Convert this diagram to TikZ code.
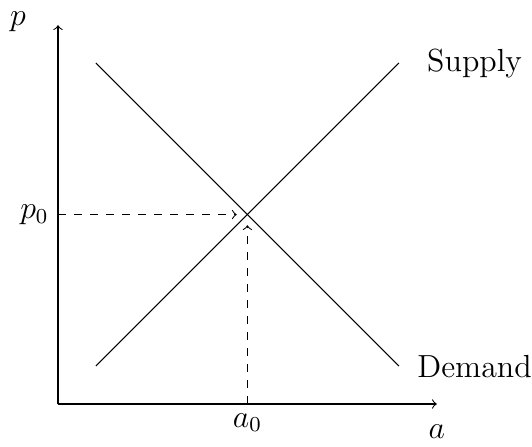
\documentclass[tikz,border=0pt]{standalone}
\usetikzlibrary{positioning}
\tikzset{
  every node/.style={font=\fontsize{12}{14}\selectfont},
  axis/.style={->},
  curve/.style={line width=0.4pt},
  guide/.style={->, dashed, shorten >=4pt},
}
\begin{document}
\begin{tikzpicture}
  \useasboundingbox (-0.766,-0.568) rectangle (6.257,5.333);
  % Axes
  \coordinate (O) at (0,0);
  \coordinate (xend) at (5,0);
  \coordinate (yend) at (0,5);
  \draw[axis] (O) -- (xend);
  \draw[axis] (O) -- (yend);
  \node (alab) at (5,-0.37) {$a$};
  \node (plab) at (-0.53,5.04) {$p$};
  % Supply and demand lines
  \coordinate (s0) at (0.5,0.5);
  \coordinate (s1) at (4.5,4.5);
  \coordinate (d0) at (0.5,4.5);
  \coordinate (d1) at (4.5,0.5);
  \coordinate (eq) at (2.5,2.5);
  \draw[curve] (s0) -- (s1);
  \draw[curve] (d0) -- (d1);
  \node[right] (supply) at (4.75,4.5) {Supply};
  \node[right] (demand) at (4.62,0.5) {Demand};
  % Equilibrium
  \node[left] (p0) at (0,2.5) {$p_0$};
  \node[below] (a0) at (2.5,0) {$a_0$};
  \draw[guide] (p0.east) -- (eq);
  \draw[guide] (a0.north) -- (eq);
\end{tikzpicture}
\end{document}
